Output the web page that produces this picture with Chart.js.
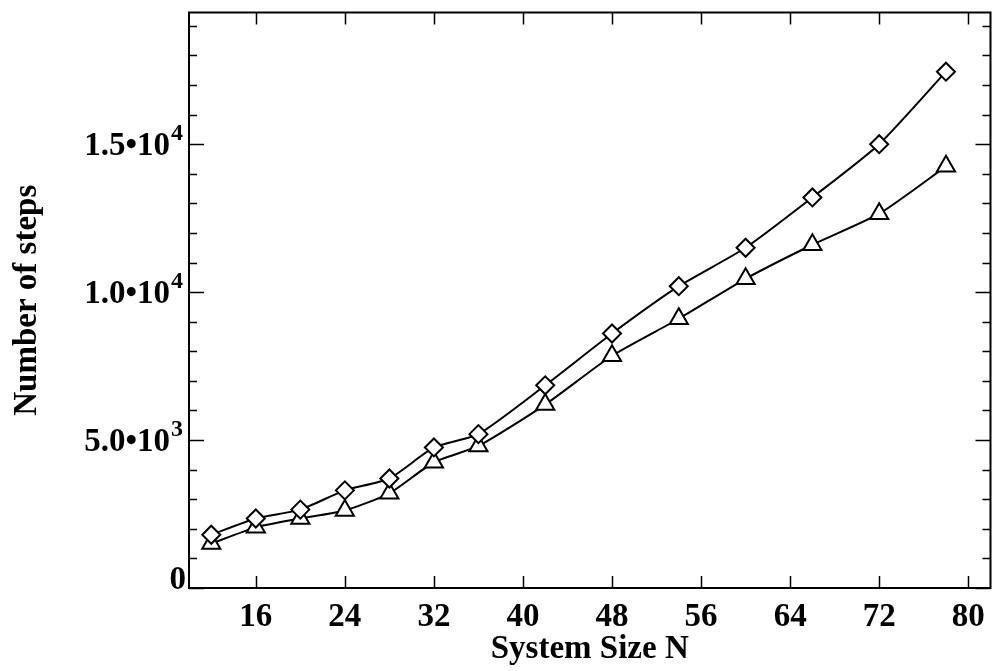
<!DOCTYPE html>
<html>
<head>
<meta charset="utf-8">
<script src="https://cdn.jsdelivr.net/npm/chart.js@4"></script>
<style>
  html, body { margin: 0; padding: 0; background: #fff; }
  #wrap { width: 1003px; height: 671px; }
</style>
</head>
<body>
<div id="wrap"><canvas id="grafico" width="1003" height="671"></canvas></div>
<script>
// system sizes and step counts for the two runs
const systemSize = [12, 16, 20, 24, 28, 32, 36, 42, 48, 54, 60, 66, 72, 78];
const stepsDiamond = [1800, 2350, 2650, 3300, 3700, 4750, 5200, 6850, 8600, 10200, 11500, 13200, 15000, 17450];
const stepsTriangle = [1500, 2050, 2350, 2620, 3200, 4250, 4800, 6200, 7850, 9100, 10450, 11600, 12650, 14250];

// axis ticks
const xTicks = [16, 24, 32, 40, 48, 56, 64, 72, 80];
const yTicks = [0, 5000, 10000, 15000];
const yTickMantissa = ['0', '5.0', '1.0', '1.5'];
const yTickExponent = ['', '3', '4', '4'];
const yMinorStep = 1000;

const serif = '"Liberation Serif", "Times New Roman", serif';

// frame, inward tick marks and y labels with superscripts
const moldura = {
    id: 'moldura',
    afterDraw(chart) {
        const ctx = chart.ctx;
        const { left, right, top, bottom } = chart.chartArea;
        const sx = chart.scales.x;
        const sy = chart.scales.y;
        ctx.save();
        ctx.strokeStyle = '#000';
        ctx.lineWidth = 2;
        ctx.strokeRect(left, top, right - left, bottom - top);

        ctx.lineWidth = 1.5;
        ctx.beginPath();
        xTicks.forEach(v => {
            const px = Math.round(sx.getPixelForValue(v)) + 0.5;
            ctx.moveTo(px, bottom); ctx.lineTo(px, bottom - 12);
            ctx.moveTo(px, top); ctx.lineTo(px, top + 12);
        });
        for (let v = 0; v <= sy.max; v += yMinorStep) {
            const py = Math.round(sy.getPixelForValue(v)) + 0.5;
            const len = v % 5000 === 0 ? 15 : 8;
            ctx.moveTo(left, py); ctx.lineTo(left + len, py);
            ctx.moveTo(right, py); ctx.lineTo(right - len, py);
        }
        ctx.stroke();

        ctx.fillStyle = '#000';
        ctx.textAlign = 'right';
        ctx.textBaseline = 'alphabetic';
        const xr = left - 6;
        yTicks.forEach((v, i) => {
            const py = Math.min(sy.getPixelForValue(v), bottom - 10);
            if (yTickExponent[i]) {
                ctx.font = 'bold 24px ' + serif;
                const ew = ctx.measureText(yTickExponent[i]).width;
                ctx.fillText(yTickExponent[i], xr, py - 4);
                ctx.font = 'bold 33px ' + serif;
                ctx.fillText(yTickMantissa[i] + '\u202210', xr - ew - 1, py + 11);
            } else {
                ctx.font = 'bold 33px ' + serif;
                ctx.fillText(yTickMantissa[i], xr + 3, py + 11);
            }
        });
        ctx.restore();
    }
};

const ctx = document.getElementById('grafico').getContext('2d');
const grafico = new Chart(ctx, {
    type: 'line',
    data: {
        labels: systemSize,
        datasets: [{
            label: 'diamond',
            data: systemSize.map((n, i) => ({ x: n, y: stepsDiamond[i] })),
            borderColor: '#000',
            borderWidth: 2,
            tension: 0.2,
            pointStyle: 'rectRot',
            pointRadius: 9,
            pointBorderWidth: 2,
            pointBorderColor: '#000',
            pointBackgroundColor: '#fff'
        },
        {
            label: 'triangle',
            data: systemSize.map((n, i) => ({ x: n, y: stepsTriangle[i] })),
            borderColor: '#000',
            borderWidth: 2,
            tension: 0.2,
            pointStyle: 'triangle',
            pointRadius: 10.5,
            pointBorderWidth: 2,
            pointBorderColor: '#000',
            pointBackgroundColor: '#fff'
        }]
    },
    plugins: [moldura],
    options: {
        responsive: false,
        animation: false,
        layout: { padding: { top: 10, right: 2, left: 0, bottom: 0 } },
        plugins: {
            legend: { display: false },
            tooltip: { enabled: false }
        },
        scales: {
            x: {
                type: 'linear',
                min: 10,
                max: 82,
                afterBuildTicks: s => { s.ticks = xTicks.map(v => ({ value: v })); },
                afterFit: s => { s.height = 83; },
                grid: { display: false },
                border: { display: false },
                ticks: {
                    color: '#000',
                    padding: 2,
                    maxRotation: 0,
                    autoSkip: false,
                    font: { family: serif, size: 33, weight: 'bold' }
                },
                title: {
                    display: true,
                    text: 'System Size N',
                    color: '#000',
                    padding: { top: 0, bottom: 2 },
                    font: { family: serif, size: 33, weight: 'bold' }
                }
            },
            y: {
                type: 'linear',
                min: 0,
                max: 19450,
                afterBuildTicks: s => { s.ticks = yTicks.map(v => ({ value: v })); },
                afterFit: s => { s.width = 189; },
                grid: { display: false },
                border: { display: false },
                ticks: { display: false },
                title: {
                    display: true,
                    text: 'Number of steps',
                    color: '#000',
                    padding: { top: 8, bottom: 0 },
                    font: { family: serif, size: 33, weight: 'bold' }
                }
            }
        }
    }
});
</script>
</body>
</html>
